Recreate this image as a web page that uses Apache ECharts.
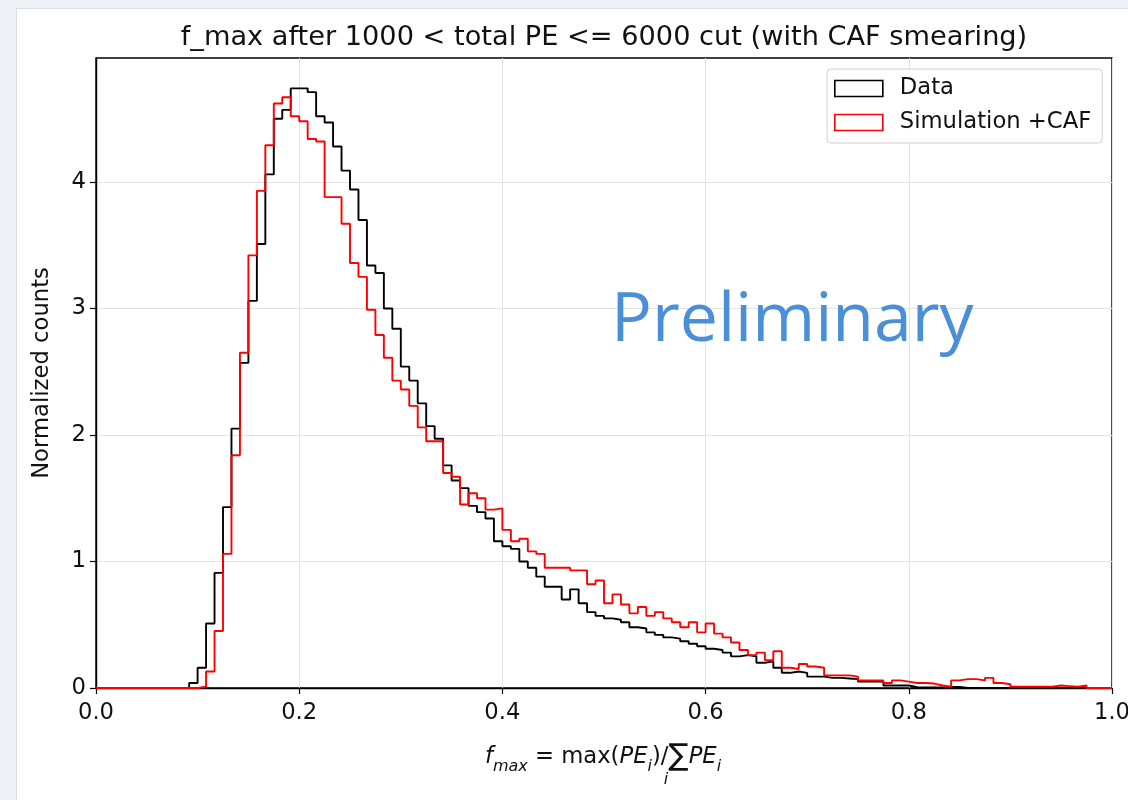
<!DOCTYPE html>
<html>
<head>
<meta charset="utf-8">
<script src="https://cdn.jsdelivr.net/npm/echarts@6/dist/echarts.min.js"></script>
<style>
  html, body { margin: 0; padding: 0; background: #eef2f6; }
  .frame { position: absolute; left: 16px; top: 8px; width: 1112px; height: 792px; background: #fff; border-left: 1px solid #d9dfe6; border-top: 1px solid #d9dfe6; }
  #chart { position: absolute; left: 0; top: 0; width: 1128px; height: 800px; }
</style>
</head>
<body>
<div class="frame"></div>
<div id="chart"></div>
<script>
// histogram binning: 120 equal bins between xMin and xMax
const xMin = 0;
const xMax = 1;
const yMax = 4.98;
const xTicks = [0, 0.2, 0.4, 0.6, 0.8, 1.0];
const yTicks = [0, 1, 2, 3, 4];

// normalized counts per bin
const dataCounts = [
  0, 0, 0, 0, 0, 0, 0, 0, 0, 0,
  0, 0.04, 0.16, 0.51, 0.91, 1.43, 2.05, 2.57, 3.06, 3.51,
  4.06, 4.50, 4.57, 4.74, 4.74, 4.71, 4.52, 4.47, 4.28, 4.09,
  3.94, 3.70, 3.34, 3.28, 3.00, 2.84, 2.54, 2.43, 2.25, 2.07,
  1.97, 1.76, 1.64, 1.58, 1.44, 1.39, 1.34, 1.16, 1.12, 1.10,
  1.00, 0.95, 0.88, 0.80, 0.80, 0.70, 0.78, 0.67, 0.60, 0.57,
  0.55, 0.54, 0.52, 0.48, 0.47, 0.44, 0.42, 0.40, 0.39, 0.37,
  0.35, 0.33, 0.31, 0.30, 0.28, 0.25, 0.26, 0.25, 0.20, 0.21,
  0.16, 0.12, 0.13, 0.12, 0.09, 0.09, 0.08, 0.08, 0.075, 0.07,
  0.05, 0.05, 0.05, 0.02, 0.02, 0.02, 0.006, 0.005, 0.005, 0.005,
  0.008, 0.008, 0, 0, 0, 0, 0, 0, 0, 0,
  0, 0, 0, 0, 0, 0, 0, 0, 0, 0
];

const simCounts = [
  0, 0, 0, 0, 0, 0, 0, 0, 0, 0,
  0, 0, 0.01, 0.13, 0.45, 1.06, 1.84, 2.65, 3.42, 3.93,
  4.29, 4.62, 4.67, 4.52, 4.48, 4.34, 4.32, 3.88, 3.88, 3.67,
  3.36, 3.25, 2.99, 2.79, 2.61, 2.43, 2.36, 2.23, 2.06, 1.95,
  1.95, 1.70, 1.67, 1.45, 1.54, 1.50, 1.41, 1.42, 1.25, 1.16,
  1.18, 1.08, 1.06, 0.95, 0.95, 0.95, 0.93, 0.93, 0.82, 0.85,
  0.67, 0.74, 0.66, 0.59, 0.64, 0.57, 0.60, 0.55, 0.52, 0.48,
  0.52, 0.44, 0.51, 0.43, 0.40, 0.36, 0.30, 0.26, 0.28, 0.22,
  0.29, 0.16, 0.15, 0.19, 0.17, 0.16, 0.10, 0.10, 0.10, 0.09,
  0.06, 0.06, 0.06, 0.04, 0.06, 0.05, 0.04, 0.04, 0.035, 0.02,
  0.01, 0.06, 0.07, 0.07, 0.06, 0.08, 0.04, 0.03, 0.01, 0.01,
  0.01, 0.01, 0.01, 0.02, 0.015, 0.01, 0.02, 0, 0, 0
];

const seriesNames = ["Data", "Simulation +CAF"];
const seriesColors = ["#000000", "#ff0000"];

const FONT = "DejaVu Sans";
const FS = 22.7; // 10pt at the figure's scale
const binWidth = (xMax - xMin) / dataCounts.length;

// outline of a step histogram: one point per bin edge, then back down to 0
const toStepPoints = (counts) => {
  const pts = counts.map((v, i) => [xMin + i * binWidth, v]);
  pts.push([xMax, counts[counts.length - 1]]);
  pts.push([xMax, 0]);
  return pts;
};

const chart = echarts.init(document.getElementById("chart"), null, { renderer: "canvas" });

const option = {
  animation: false,
  grid: {
    left: 96,
    right: 16,
    top: 58,
    bottom: 112,
    outerBoundsMode: "none",
    show: true,
    borderColor: "#000",
    borderWidth: 1.4
  },
  xAxis: {
    type: "value",
    min: xMin,
    max: xMax,
    interval: 0.2,
    axisLine: { show: true, lineStyle: { color: "#000", width: 1.4 } },
    axisTick: { show: true, length: 6, lineStyle: { color: "#000", width: 1.2 } },
    axisLabel: {
      customValues: xTicks,
      formatter: (v) => v.toFixed(1),
      color: "#111",
      fontSize: FS,
      fontFamily: FONT,
      margin: 14,
      showMaxLabel: true,
      hideOverlap: false
    },
    splitLine: { show: true, lineStyle: { color: "#e3e3e3", width: 1 } }
  },
  yAxis: {
    type: "value",
    min: 0,
    max: yMax,
    interval: 1,
    name: "Normalized counts",
    nameLocation: "middle",
    nameGap: 42,
    nameRotate: 90,
    nameTextStyle: { fontSize: FS, fontFamily: FONT, color: "#111" },
    axisLine: { show: true, lineStyle: { color: "#000", width: 1.4 } },
    axisTick: { show: true, length: 6, customValues: yTicks, lineStyle: { color: "#000", width: 1.2 } },
    axisLabel: { customValues: yTicks, color: "#111", fontSize: FS, fontFamily: FONT, margin: 10 },
    splitLine: { show: true, lineStyle: { color: "#e3e3e3", width: 1 } }
  },
  legend: {
    orient: "vertical",
    left: 827,
    top: 69,
    itemWidth: 48,
    itemHeight: 16,
    itemGap: 11,
    padding: [8, 11, 9, 7],
    backgroundColor: "rgba(255,255,255,0.85)",
    borderColor: "#cfcfcf",
    borderWidth: 1,
    borderRadius: 4,
    textStyle: { fontSize: FS, fontFamily: FONT, color: "#111", lineHeight: 20, padding: [0, 0, 0, 12] },
    data: seriesNames.map((name, i) => ({
      name,
      icon: "rect",
      itemStyle: { color: "#fff", borderColor: seriesColors[i], borderWidth: 1.6 }
    }))
  },
  series: [
    {
      name: seriesNames[0],
      type: "line",
      step: "end",
      symbol: "none",
      data: toStepPoints(dataCounts),
      lineStyle: { color: seriesColors[0], width: 1.9 },
      itemStyle: { color: seriesColors[0] },
      z: 3
    },
    {
      name: seriesNames[1],
      type: "line",
      step: "end",
      symbol: "none",
      data: toStepPoints(simCounts),
      lineStyle: { color: seriesColors[1], width: 1.9 },
      itemStyle: { color: seriesColors[1] },
      z: 4
    }
  ],
  graphic: [
    {
      type: "text",
      x: 604,
      y: 38,
      style: {
        text: "f_max after 1000 < total PE <= 6000 cut (with CAF smearing)",
        fontSize: 27.2,
        fontFamily: FONT,
        fill: "#111",
        align: "center",
        verticalAlign: "middle"
      }
    },
    {
      type: "text",
      x: 611,
      y: 322,
      z: 10,
      style: {
        text: "Preliminary",
        fontSize: 68,
        fontFamily: "Open Sans",
        fill: "#4a8fd8",
        align: "left",
        verticalAlign: "middle"
      }
    },
    {
      type: "text",
      x: 603,
      y: 757,
      style: {
        text: "{it|f}{sub|max}{n| = max(}{it|PE}{sub|i}{n|)/}{sum|∑}{it|PE}{sub|i}",
        align: "center",
        verticalAlign: "middle",
        fill: "#111",
        rich: {
          n: { fontSize: FS, fontFamily: FONT, lineHeight: 36, verticalAlign: "middle", fill: "#111" },
          it: { fontSize: FS, fontFamily: FONT, fontStyle: "italic", lineHeight: 36, verticalAlign: "middle", fill: "#111" },
          sub: { fontSize: 16, fontFamily: FONT, fontStyle: "italic", lineHeight: 16, verticalAlign: "bottom", fill: "#111" },
          sum: { fontSize: 30, fontFamily: FONT, lineHeight: 36, verticalAlign: "middle", fill: "#111" }
        }
      }
    },
    {
      type: "text",
      x: 666,
      y: 780,
      style: {
        text: "i",
        fontSize: 16,
        fontFamily: FONT,
        fontStyle: "italic",
        fill: "#111",
        align: "center",
        verticalAlign: "middle"
      }
    }
  ]
};

chart.setOption(option);
</script>
</body>
</html>
